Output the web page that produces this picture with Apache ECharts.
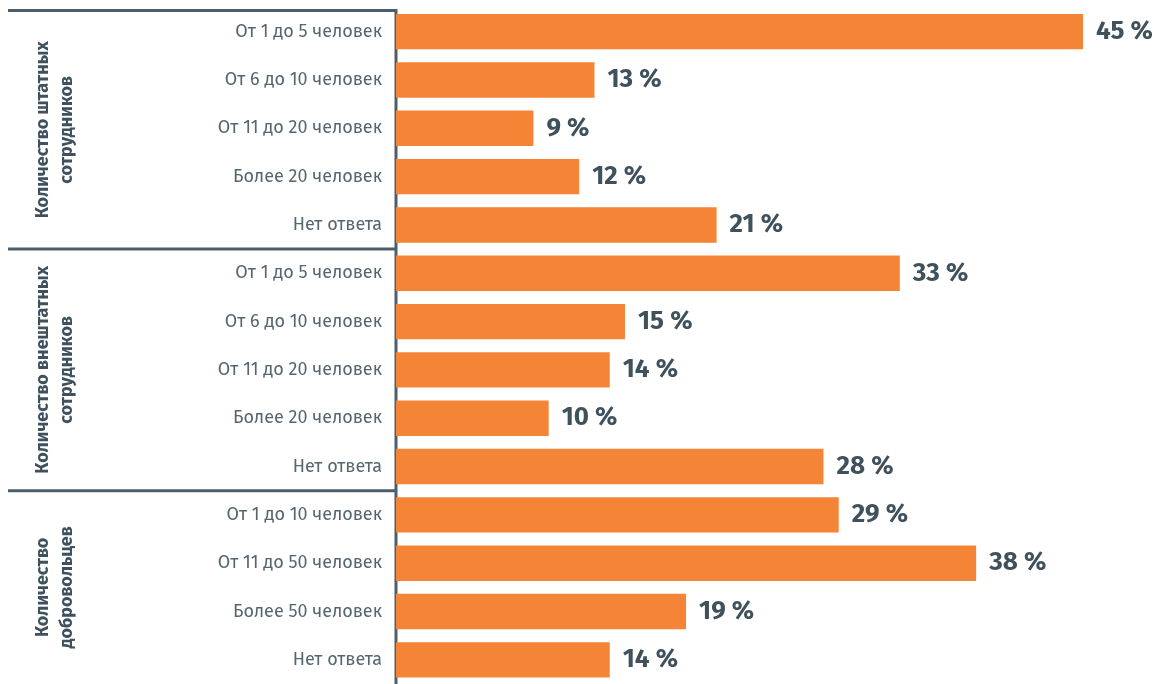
<!DOCTYPE html>
<html>
<head>
<meta charset="utf-8">
<script src="https://cdn.jsdelivr.net/npm/echarts@6/dist/echarts.min.js"></script>
<style>
html,body{margin:0;padding:0;background:#fff;}
#chart{width:1167px;height:684px;}
</style>
</head>
<body>
<div id="chart"></div>
<script>
const categories = [
  'От 1 до 5 человек','От 6 до 10 человек','От 11 до 20 человек','Более 20 человек','Нет ответа',
  'От 1 до 5 человек','От 6 до 10 человек','От 11 до 20 человек','Более 20 человек','Нет ответа',
  'От 1 до 10 человек','От 11 до 50 человек','Более 50 человек','Нет ответа'
];
const values = [45,13,9,12,21, 33,15,14,10,28, 29,38,19,14];
const groupLabels = ['Количество штатных\nсотрудников','Количество внештатных\nсотрудников','Количество\nдобровольцев'];
const groupSizes = [5,5,4];

const FONT = '"Fira Sans","Open Sans","Noto Sans",sans-serif';
const DARK = '#3f515d';
const LINE = '#4b5e6a';
const GRID_LEFT = 396;

const chart = echarts.init(document.getElementById('chart'));
chart.setOption({
  animation: false,
  grid: {left: GRID_LEFT, right: 84, top: 7.5, height: 678.5, containLabel: false},
  xAxis: {type: 'value', min: 0, max: 45, show: false},
  yAxis: {
    type: 'category', inverse: true, data: categories,
    axisLine: {show: false},
    axisTick: {show: false},
    axisLabel: {fontFamily: FONT, fontSize: 18, color: '#55666f', margin: 14}
  },
  series: [{
    type: 'bar', data: values, barCategoryGap: '26.7%',
    itemStyle: {color: '#f58536'},
    label: {
      show: true, position: 'right', distance: 13,
      formatter: p => p.value + ' %',
      fontFamily: FONT, fontSize: 26, fontWeight: 'bold', color: DARK
    }
  }]
});

function addGroups(){
  const y0 = chart.convertToPixel({yAxisIndex: 0}, 0);
  const y1 = chart.convertToPixel({yAxisIndex: 0}, 1);
  const band = y1 - y0;
  const elems = [];
  let start = 0;
  const frameTop = y0 - band / 2 + 3;
  const frameBottom = chart.convertToPixel({yAxisIndex: 0}, categories.length - 1) + band / 2;
  groupSizes.forEach((n, g) => {
    let top = chart.convertToPixel({yAxisIndex: 0}, start) - band / 2;
    const bottom = chart.convertToPixel({yAxisIndex: 0}, start + n - 1) + band / 2;
    if (g === 0) top = frameTop;
    elems.push({
      type: 'line', silent: true,
      shape: {x1: 8, y1: top, x2: GRID_LEFT, y2: top},
      style: {stroke: LINE, lineWidth: 3}
    });
    elems.push({
      type: 'text', silent: true, x: 55, y: (top + bottom) / 2, rotation: Math.PI / 2,
      style: {text: groupLabels[g], fontFamily: FONT, fontSize: 18, fontWeight: 'bold',
              fill: DARK, align: 'center', verticalAlign: 'middle', lineHeight: 24}
    });
    start += n;
  });
  elems.push({
    type: 'line', silent: true,
    shape: {x1: GRID_LEFT, y1: frameTop - 1.5, x2: GRID_LEFT, y2: frameBottom},
    style: {stroke: LINE, lineWidth: 3}
  });
  chart.setOption({graphic: {elements: elems}});
}
addGroups();
</script>
</body>
</html>
